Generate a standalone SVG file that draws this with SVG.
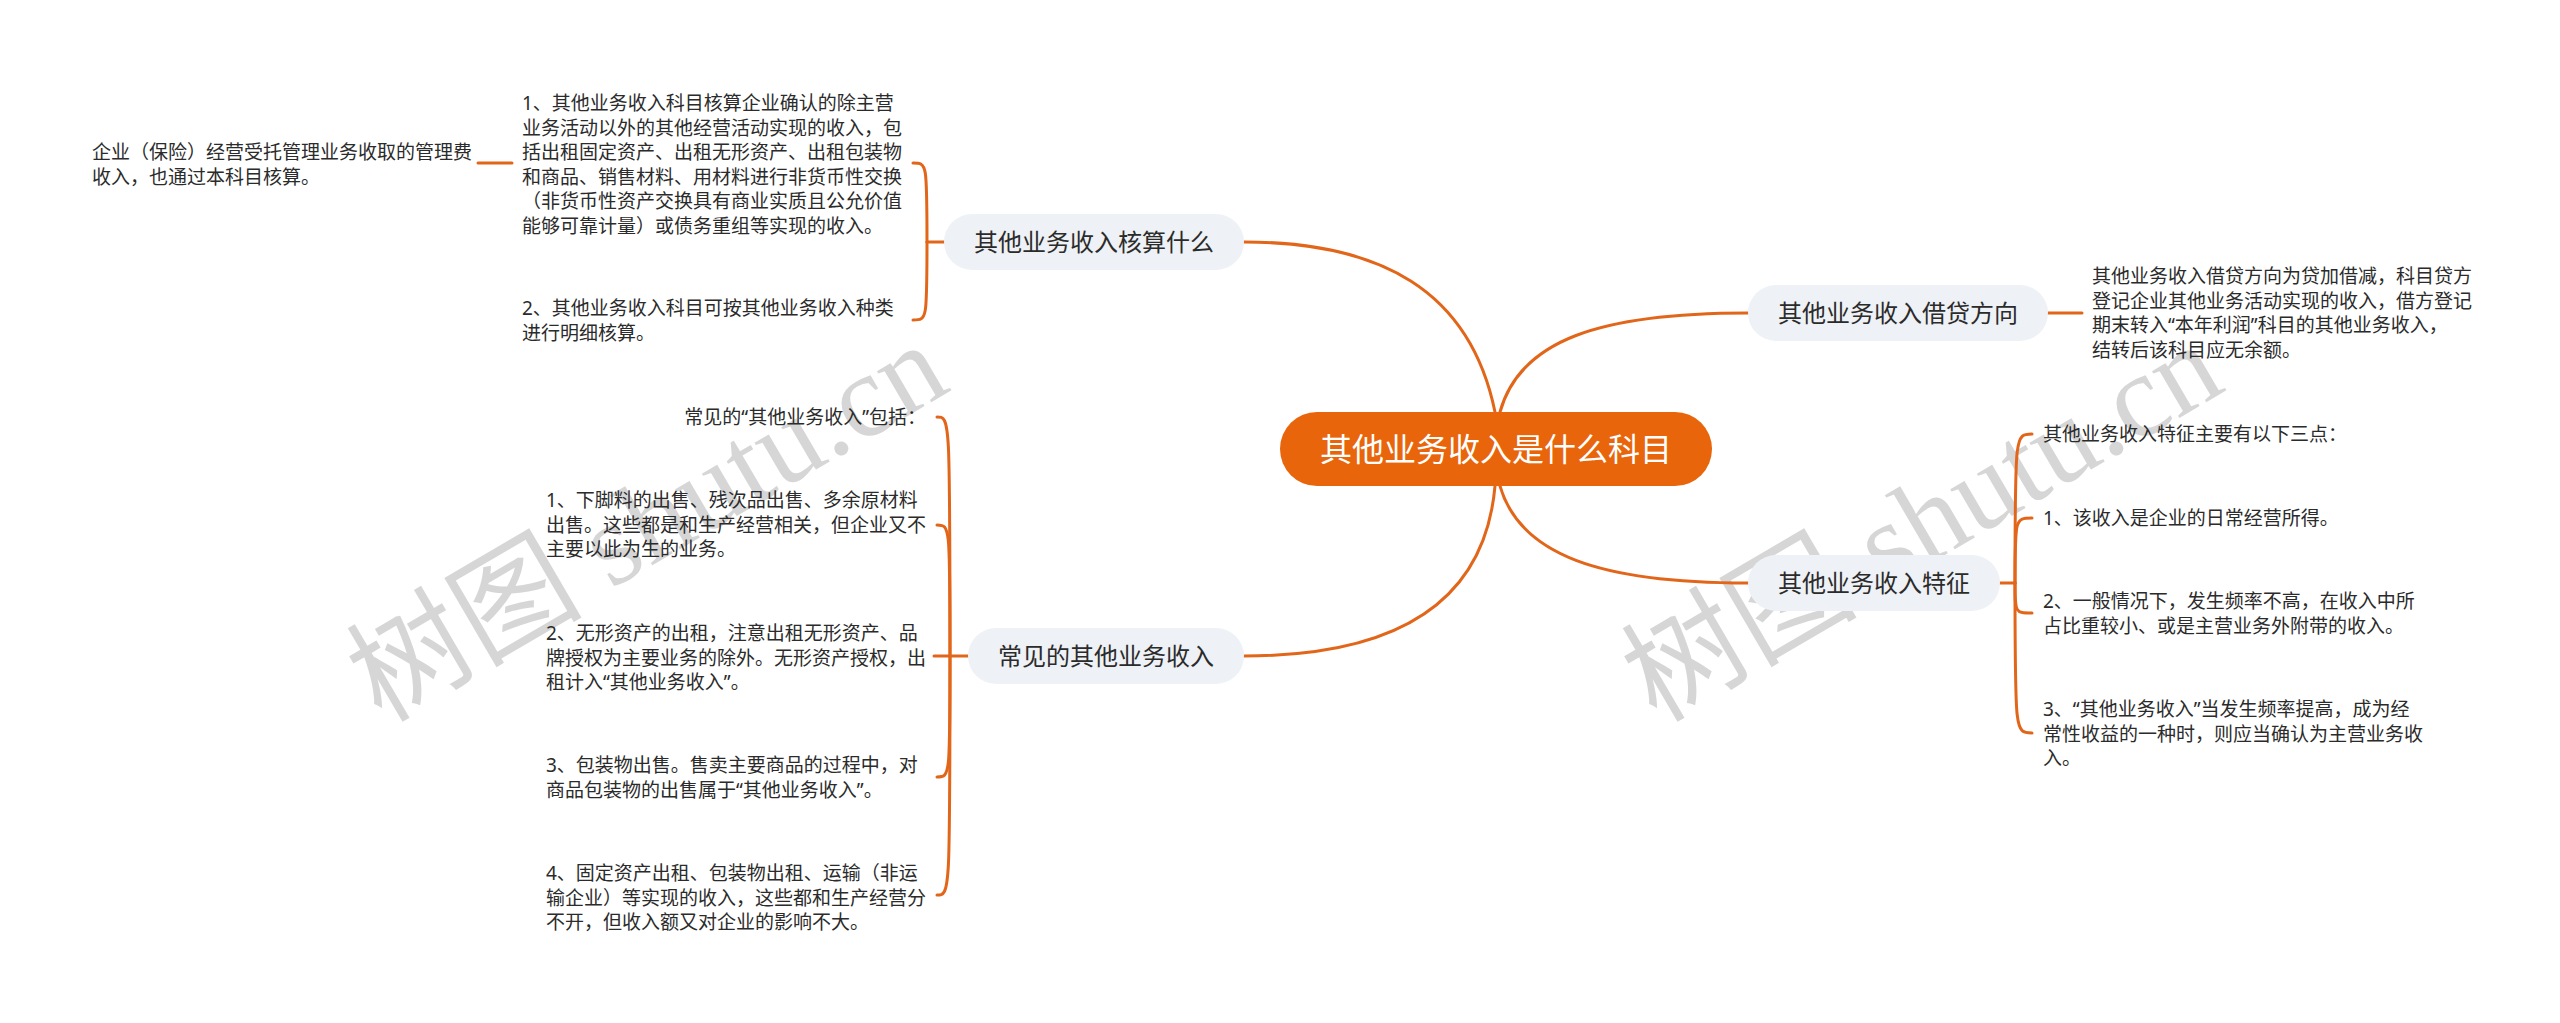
<svg xmlns="http://www.w3.org/2000/svg" width="2560" height="1023" viewBox="0 0 2560 1023">
<style>
.wm{font-family:"Liberation Serif","Noto Sans CJK SC",serif;font-size:118px;fill:#cfcfcf;fill-opacity:0.85}
.line{fill:none;stroke:#E2661A;stroke-width:3;stroke-linecap:round}
.leaf{font-family:"Noto Sans","Noto Sans CJK SC",sans-serif;font-size:19px;fill:#2b2b2b}
.br rect{fill:#EEF1F5}
.br text{font-family:"Noto Sans","Noto Sans CJK SC",sans-serif;font-size:24px;fill:#2b2b2b;text-anchor:middle}
.root rect{fill:#E8650B}
.root text{font-family:"Noto Sans","Noto Sans CJK SC",sans-serif;font-size:32px;fill:#ffffff;text-anchor:middle}
</style>
<rect width="2560" height="1023" fill="#ffffff"/>
<g id="watermarks">
<text class="wm" x="647" y="562" text-anchor="middle" transform="rotate(-30.3 647 522)">树图 shutu.cn</text>
<text class="wm" x="1922" y="562" text-anchor="middle" transform="rotate(-30.3 1922 522)">树图 shutu.cn</text>
</g>
<g id="connectors">
<path class="line" d="M1495,412 C1470,290 1380,242 1244,242"/>
<path class="line" d="M1500,412 C1520,340 1600,313 1748,313"/>
<path class="line" d="M1495,486 C1485,600 1400,656 1244,656"/>
<path class="line" d="M1500,486 C1520,555 1600,583 1748,583"/>
<path class="line" d="M944,242 L927,242"/>
<path class="line" d="M927,242 C927,163 927,163 913,163"/>
<path class="line" d="M927,242 C927,320 927,320 913,320"/>
<path class="line" d="M512,163 L478,163"/>
<path class="line" d="M968,656 L934,656"/>
<path class="line" d="M950,656 C950,417 950,417 937,417"/>
<path class="line" d="M950,656 C950,525 950,525 937,525"/>
<path class="line" d="M950,656 C950,777 950,777 937,777"/>
<path class="line" d="M950,656 C950,895 950,895 937,895"/>
<path class="line" d="M2048,313 L2082,313"/>
<path class="line" d="M2000,583 L2015,583"/>
<path class="line" d="M2015,583 C2015,434 2015,434 2032,434"/>
<path class="line" d="M2015,583 C2015,518 2015,518 2032,518"/>
<path class="line" d="M2015,583 C2015,613 2015,613 2032,613"/>
<path class="line" d="M2015,583 C2015,733 2015,733 2032,733"/>
</g>
<g id="root" class="root">
<rect x="1280" y="412" width="432" height="74" rx="37"/>
<text x="1496" y="461">其他业务收入是什么科目</text>
</g>
<g id="branch-hesuan" class="br">
<rect x="944" y="214" width="300" height="56" rx="28"/>
<text x="1094" y="251">其他业务收入核算什么</text>
</g>
<g id="branch-changjian" class="br">
<rect x="968" y="628" width="276" height="56" rx="28"/>
<text x="1106" y="665">常见的其他业务收入</text>
</g>
<g id="branch-jiedai" class="br">
<rect x="1748" y="285" width="300" height="56" rx="28"/>
<text x="1898" y="322">其他业务收入借贷方向</text>
</g>
<g id="branch-tezheng" class="br">
<rect x="1748" y="555" width="252" height="56" rx="28"/>
<text x="1874" y="592">其他业务收入特征</text>
</g>
<g id="leaf-a0">
<text class="leaf" x="92" y="159">企业（保险）经营受托管理业务收取的管理费</text>
<text class="leaf" x="92" y="183.5">收入，也通过本科目核算。</text>
</g>
<g id="leaf-a1">
<text class="leaf" x="522" y="110">1、其他业务收入科目核算企业确认的除主营</text>
<text class="leaf" x="522" y="134.5">业务活动以外的其他经营活动实现的收入，包</text>
<text class="leaf" x="522" y="159">括出租固定资产、出租无形资产、出租包装物</text>
<text class="leaf" x="522" y="183.5">和商品、销售材料、用材料进行非货币性交换</text>
<text class="leaf" x="522" y="208">（非货币性资产交换具有商业实质且公允价值</text>
<text class="leaf" x="522" y="232.5">能够可靠计量）或债务重组等实现的收入。</text>
</g>
<g id="leaf-a2">
<text class="leaf" x="522" y="315">2、其他业务收入科目可按其他业务收入种类</text>
<text class="leaf" x="522" y="339.5">进行明细核算。</text>
</g>
<g id="leaf-b0">
<text class="leaf" x="926" y="424" text-anchor="end">常见的“其他业务收入”包括：</text>
</g>
<g id="leaf-b1">
<text class="leaf" x="546" y="507">1、下脚料的出售、残次品出售、多余原材料</text>
<text class="leaf" x="546" y="531.5">出售。这些都是和生产经营相关，但企业又不</text>
<text class="leaf" x="546" y="556">主要以此为生的业务。</text>
</g>
<g id="leaf-b2">
<text class="leaf" x="546" y="640">2、无形资产的出租，注意出租无形资产、品</text>
<text class="leaf" x="546" y="664.5">牌授权为主要业务的除外。无形资产授权，出</text>
<text class="leaf" x="546" y="689">租计入“其他业务收入”。</text>
</g>
<g id="leaf-b3">
<text class="leaf" x="546" y="772">3、包装物出售。售卖主要商品的过程中，对</text>
<text class="leaf" x="546" y="796.5">商品包装物的出售属于“其他业务收入”。</text>
</g>
<g id="leaf-b4">
<text class="leaf" x="546" y="880">4、固定资产出租、包装物出租、运输（非运</text>
<text class="leaf" x="546" y="904.5">输企业）等实现的收入，这些都和生产经营分</text>
<text class="leaf" x="546" y="929">不开，但收入额又对企业的影响不大。</text>
</g>
<g id="leaf-c0">
<text class="leaf" x="2092" y="283">其他业务收入借贷方向为贷加借减，科目贷方</text>
<text class="leaf" x="2092" y="307.5">登记企业其他业务活动实现的收入，借方登记</text>
<text class="leaf" x="2092" y="332">期末转入“本年利润”科目的其他业务收入，</text>
<text class="leaf" x="2092" y="356.5">结转后该科目应无余额。</text>
</g>
<g id="leaf-d0">
<text class="leaf" x="2043" y="441">其他业务收入特征主要有以下三点：</text>
</g>
<g id="leaf-d1">
<text class="leaf" x="2043" y="525">1、该收入是企业的日常经营所得。</text>
</g>
<g id="leaf-d2">
<text class="leaf" x="2043" y="608">2、一般情况下，发生频率不高，在收入中所</text>
<text class="leaf" x="2043" y="632.5">占比重较小、或是主营业务外附带的收入。</text>
</g>
<g id="leaf-d3">
<text class="leaf" x="2043" y="716">3、“其他业务收入”当发生频率提高，成为经</text>
<text class="leaf" x="2043" y="740.5">常性收益的一种时，则应当确认为主营业务收</text>
<text class="leaf" x="2043" y="765">入。</text>
</g>
</svg>
